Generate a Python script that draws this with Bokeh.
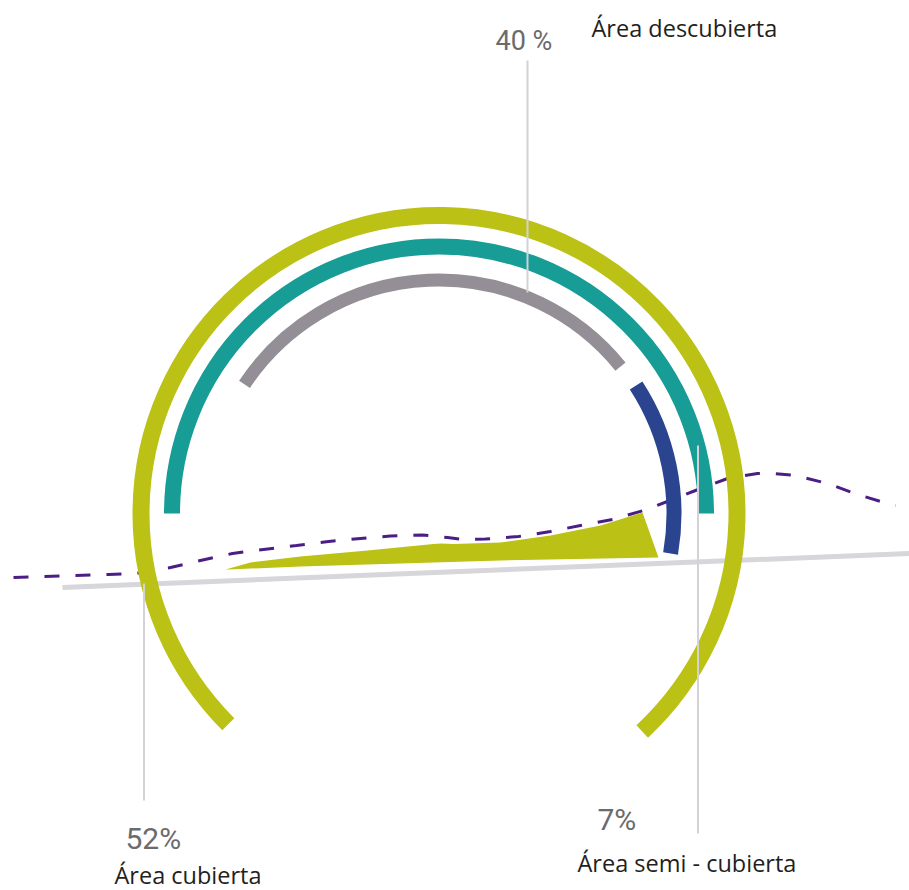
import numpy as np
from bokeh.plotting import figure
from bokeh.models import Range1d
from bokeh.core.properties import value
from bokeh.embed import file_html
from bokeh.resources import INLINE

# ---------------- data ----------------
categories = ["Área cubierta", "Área descubierta", "Área semi - cubierta"]
percent_labels = ["52%", "40 %", "7%"]

# rings: outer green (cubierta), teal (reference half ring), grey (descubierta), blue (semi)
ring_start_deg = [-47.0, 0.0, 39.0, -9.8]
ring_end_deg = [225.0, 180.0, 146.4, 33.0]
ring_radius = [298.0, 267.0, 233.5, 235.0]

# dashed profile line (screen px, y downward)
profile_x = [13, 40, 75, 108, 135, 170, 200, 232, 263, 296, 328, 360, 390, 422,
             447, 462, 485, 518, 550, 580, 612, 643, 672, 695, 727, 757, 772,
             795, 827, 857, 887, 895]
profile_y = [577, 576, 575, 574, 573, 567, 560, 553, 549, 545, 541, 538, 535.5, 534.5,
             537, 539, 538.5, 536, 531, 525, 519, 510, 499, 490, 478, 473, 473,
             475, 483, 494, 503, 505]

# green filled profile (screen px, y downward)
area_x = [225, 250, 300, 367, 433, 440, 453, 500, 550, 600, 642, 658, 500, 400, 300, 240, 225]
area_y = [569, 562, 556, 550, 543.5, 543, 543.5, 542, 535, 525, 512, 557, 560, 563, 566, 568.5, 569]

# ---------------- layout constants ----------------
W, H = 909, 890
CX, CY = 438.5, 513.0  # ring centre in screen px


def fy(sy):
    return H - np.asarray(sy, dtype=float)


p = figure(width=W, height=H, x_range=Range1d(0, W), y_range=Range1d(0, H),
           x_axis_type=None, y_axis_type=None, toolbar_location=None,
           output_backend="svg", min_border=0, outline_line_color=None,
           background_fill_color="white", border_fill_color="white")
p.grid.visible = False

# ground line
p.line(x=[62, 909], y=fy([587, 553]), line_color="#D6D6DB", line_width=5)

# dashed profile
p.line(x=profile_x, y=fy(profile_y), line_color="#4B1E86", line_width=3,
       line_dash="15 16")

# green area
p.patch(x=area_x, y=fy(area_y), fill_color="#BBC115", line_color=None)

ring_colors = ["#BBC115", "#179C96", "#948F96", "#2B4490"]
ring_widths = [17, 16, 13, 15]
for s, e, r, c, w in zip(ring_start_deg, ring_end_deg, ring_radius, ring_colors, ring_widths):
    p.arc(x=[CX], y=[H - CY], radius=r, start_angle=np.deg2rad(s), end_angle=np.deg2rad(e),
          direction="anticlock", line_color=c, line_width=w)

# leader lines
lead = "#D2D2D7"
p.segment(x0=[527, 143.5, 697.5], y0=fy([60, 583, 445]),
          x1=[527, 143.5, 697.5], y1=fy([292, 800, 833]),
          line_color=lead, line_width=2)

pct_font = value("Roboto")
lab_font = value("Open Sans")
pct_color = "#6A6B6E"

# percentages: cubierta, descubierta, semi
p.text(x=[125, 597], y=fy([838, 819]), text=[percent_labels[0], percent_labels[2]],
       text_font=pct_font, text_font_size="30px", text_color=pct_color,
       text_baseline="alphabetic", text_align="left")
p.text(x=[495], y=fy([40]), text=[percent_labels[1]],
       text_font=pct_font, text_font_size="27px", text_color=pct_color,
       text_baseline="alphabetic", text_align="left")

p.text(x=[114, 591, 577], y=fy([874, 27, 862]), text=categories,
       text_font=lab_font, text_font_size="23.5px", text_color="#231F20",
       text_baseline="alphabetic", text_align="left")

open("out.html", "w").write(file_html(p, INLINE))
